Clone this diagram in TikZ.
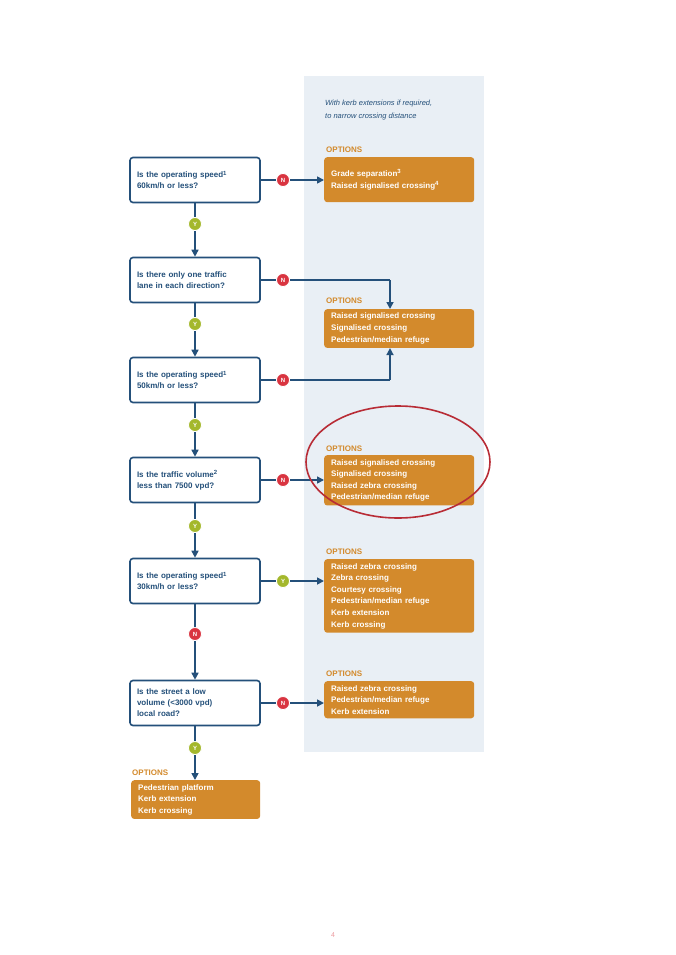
\documentclass[tikz,border=0pt]{standalone}
\usepackage{fontspec}
\setmainfont{Liberation Sans}
\usetikzlibrary{arrows.meta}
\definecolor{qblue}{HTML}{24507A}
\definecolor{optor}{HTML}{D38A2C}
\definecolor{panel}{HTML}{E9EFF5}
\definecolor{nred}{HTML}{D93440}
\definecolor{ygreen}{HTML}{A4B82C}
\tikzset{
 qbox/.style={draw=qblue,line width=1.6pt,rounded corners=3pt,fill=white,minimum width=130pt,minimum height=45pt,text width=116pt,align=left,font=\fontsize{8}{11}\selectfont\bfseries,text=qblue},
 obox/.style={fill=optor,rounded corners=3pt,minimum width=150pt,text width=136pt,align=left,font=\fontsize{8}{11.6}\selectfont\bfseries,text=white,anchor=north west,inner sep=0pt,inner xsep=7pt,inner ysep=4pt},
 olab/.style={font=\fontsize{8}{10}\selectfont\bfseries,text=optor,anchor=south west,inner sep=0pt},
 nc/.style={circle,fill=nred,draw=white,line width=0.8pt,minimum size=13pt,inner sep=0pt,font=\fontsize{6}{6}\selectfont\bfseries,text=white},
 yc/.style={circle,fill=ygreen,draw=white,line width=0.8pt,minimum size=13pt,inner sep=0pt,font=\fontsize{6}{6}\selectfont\bfseries,text=white},
 arr/.style={draw=qblue,line width=1.6pt,-{Triangle[length=7pt,width=7pt]}},
 ln/.style={draw=qblue,line width=1.6pt},
}
\begin{document}
\begin{tikzpicture}[x=1pt,y=-1pt]
\useasboundingbox (0,0) rectangle (675,955);
\fill[panel] (304,76) rectangle (484,752);
\node[anchor=north west,inner sep=0pt,align=left,font=\fontsize{7.5}{12.5}\selectfont\itshape,text=qblue] (note) at (325,100) {With kerb extensions if required,\\to narrow crossing distance};
% questions
\node[qbox] (q1) at (195,180) {Is the operating speed\textsuperscript{1}\\60km/h or less?};
\node[qbox] (q2) at (195,280) {Is there only one traffic\\lane in each direction?};
\node[qbox] (q3) at (195,380) {Is the operating speed\textsuperscript{1}\\50km/h or less?};
\node[qbox] (q4) at (195,480) {Is the traffic volume\textsuperscript{2}\\less than 7500 vpd?};
\node[qbox] (q5) at (195,581) {Is the operating speed\textsuperscript{1}\\30km/h or less?};
\node[qbox] (q6) at (195,703) {Is the street a low\\volume (<3000 vpd)\\local road?};
% options
\node[olab] (l1) at (326,153) {OPTIONS};
\node[obox,minimum height=45pt] (o1) at (324,157) {Grade separation\textsuperscript{3}\\Raised signalised crossing\textsuperscript{4}};
\node[olab] (l2) at (326,304) {OPTIONS};
\node[obox] (o2) at (324,309) {Raised signalised crossing\\Signalised crossing\\Pedestrian/median refuge};
\node[olab] (l3) at (326,452) {OPTIONS};
\node[obox] (o3) at (324,455) {Raised signalised crossing\\Signalised crossing\\Raised zebra crossing\\Pedestrian/median refuge};
\node[olab] (l4) at (326,555) {OPTIONS};
\node[obox] (o4) at (324,559) {Raised zebra crossing\\Zebra crossing\\Courtesy crossing\\Pedestrian/median refuge\\Kerb extension\\Kerb crossing};
\node[olab] (l5) at (326,677) {OPTIONS};
\node[obox] (o5) at (324,681) {Raised zebra crossing\\Pedestrian/median refuge\\Kerb extension};
\node[olab] (l6) at (132,776) {OPTIONS};
\node[obox,minimum width=129pt,text width=115pt] (o6) at (131,780) {Pedestrian platform\\Kerb extension\\Kerb crossing};
% connectors
\coordinate (c2) at (390,280);
\coordinate (c3) at (390,380);
\draw[arr] (q1.east) -- (q1.east -| o1.west);
\draw[ln] (q2.east) -- (c2);
\draw[arr] (c2) -- (c2 |- o2.north);
\draw[ln] (q3.east) -- (c3);
\draw[arr] (c3) -- (c3 |- o2.south);
\draw[arr] (q4.east) -- (q4.east -| o3.west);
\draw[arr] (q5.east) -- (q5.east -| o4.west);
\draw[arr] (q6.east) -- (q6.east -| o5.west);
\draw[arr] (q1.south) -- (q2.north);
\draw[arr] (q2.south) -- (q3.north);
\draw[arr] (q3.south) -- (q4.north);
\draw[arr] (q4.south) -- (q5.north);
\draw[arr] (q5.south) -- (q6.north);
\draw[arr] (q6.south) -- (q6.south |- o6.north);
% badges
\node[nc] (n1) at (283,180) {N};
\node[nc] (n2) at (283,280) {N};
\node[nc] (n3) at (283,380) {N};
\node[nc] (n4) at (283,480) {N};
\node[yc] (y5) at (283,581) {Y};
\node[nc] (n6) at (283,703) {N};
\node[yc] (y1) at (195,224) {Y};
\node[yc] (y2) at (195,324) {Y};
\node[yc] (y3) at (195,425) {Y};
\node[yc] (y4) at (195,526) {Y};
\node[nc] (n5) at (195,634) {N};
\node[yc] (y6) at (195,748) {Y};
% highlight
\draw[nred!85!black,line width=1.6pt] (398,462) ellipse [x radius=92,y radius=56];
\node[font=\fontsize{7}{7}\selectfont,text=nred!50] (pg) at (333,935) {4};
\end{tikzpicture}
\end{document}
